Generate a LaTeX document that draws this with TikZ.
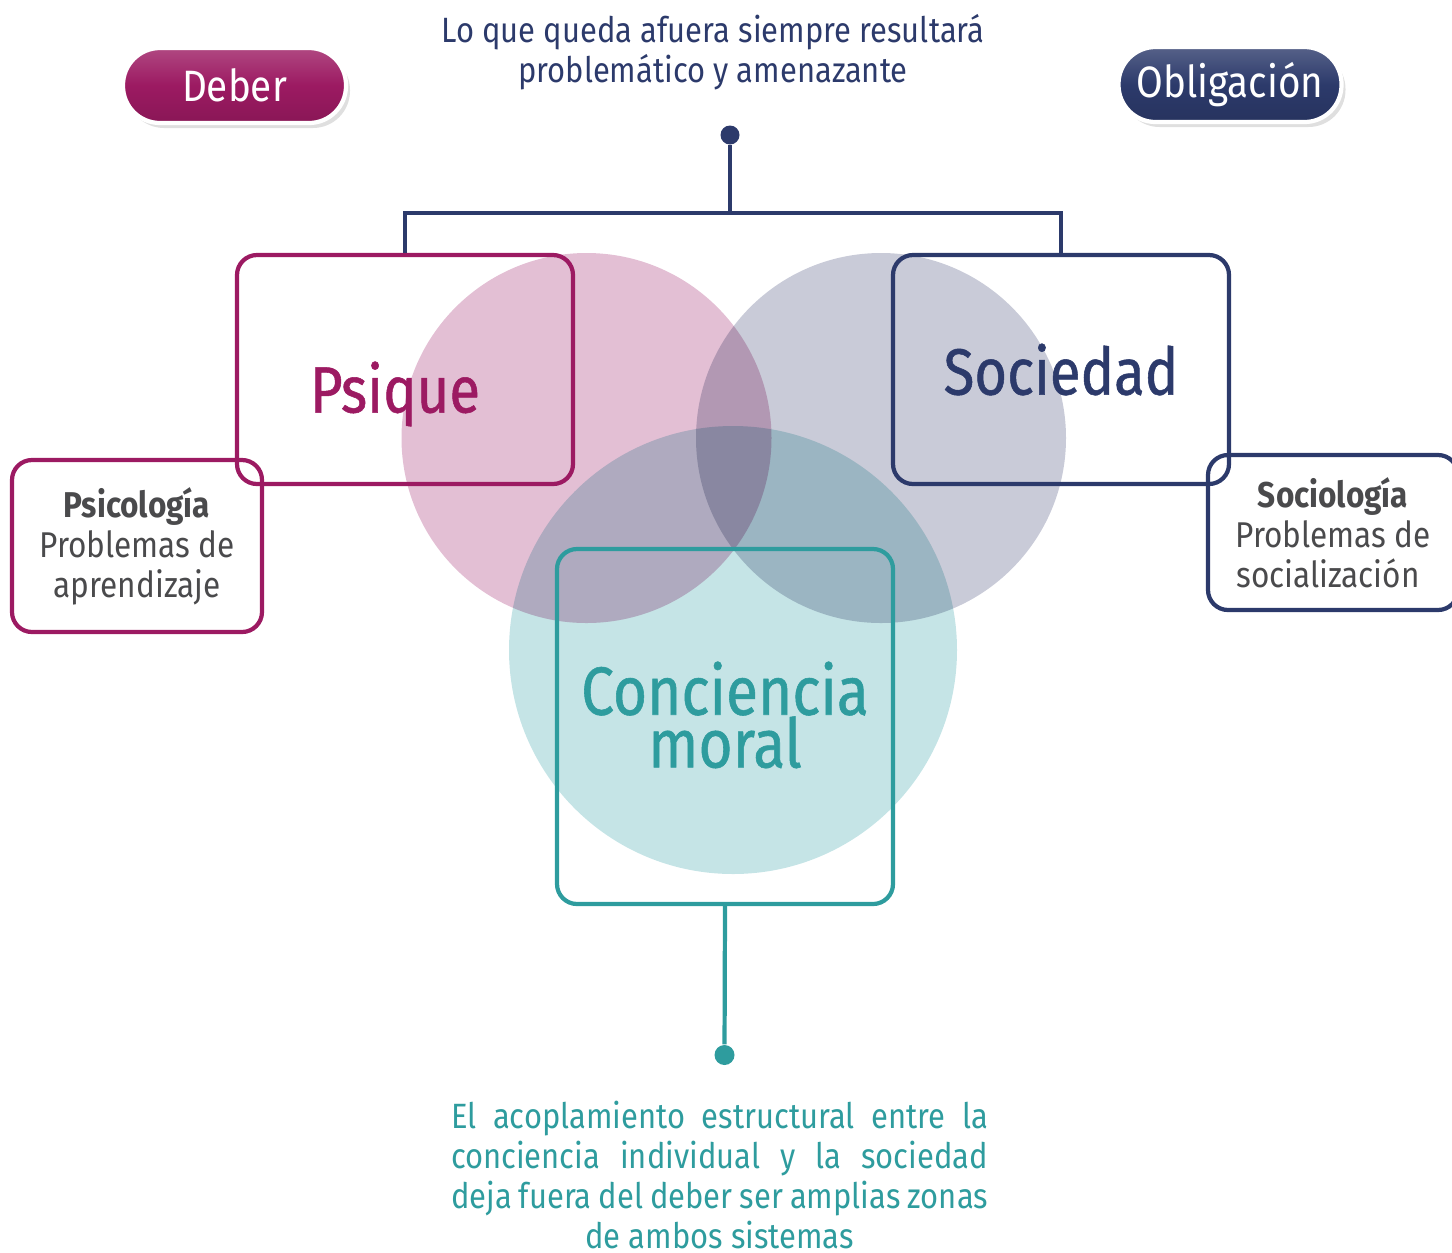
\documentclass[tikz,border=0pt]{standalone}
\usepackage{fontspec}
\setmainfont{Fira Sans}
\newfontfamily\narrowfont[FakeStretch=0.88]{Fira Sans}
\newfontfamily\labelfont[FakeStretch=0.86, FakeBold=0.8]{Fira Sans}
\usetikzlibrary{shadows}

\definecolor{deber}{RGB}{156,26,98}
\definecolor{navy}{RGB}{44,58,107}
\definecolor{teal}{RGB}{46,156,158}
\definecolor{greytext}{RGB}{74,74,76}
\definecolor{pinkfill}{RGB}{227,191,212}
\definecolor{greyfill}{RGB}{201,203,216}
\definecolor{tealfill}{RGB}{197,228,230}

\begin{document}
\begin{tikzpicture}[
    pill/.style={rectangle, rounded corners=0.37cm, minimum width=2.23cm, minimum height=0.75cm, draw=white, line width=1.2pt, text=white, font=\narrowfont\fontsize{12.5}{14}\selectfont, drop shadow={opacity=0.25, shadow xshift=0.04cm, shadow yshift=-0.05cm}},
    bigbox/.style={rectangle, rounded corners=0.2cm, minimum width=3.36cm, minimum height=2.29cm, line width=1.2pt, font=\labelfont\fontsize{18.6}{15}\selectfont, align=center},
    smallbox/.style={rectangle, rounded corners=0.2cm, minimum width=2.5cm, line width=1.2pt, text=greytext, font=\narrowfont\fontsize{10.2}{11.4}\selectfont, align=center},
    blob/.style={circle, inner sep=0pt},
    dot/.style={circle, inner sep=0pt, minimum size=0.19cm},
    link/.style={line width=1.2pt}
]
\useasboundingbox (0,0) rectangle (14.52,-12.52);

% Top pills
\node (deber) [pill, top color=deber!80!white, bottom color=deber!88!black, middle color=deber] at (2.345,-0.855) {Deber};
\node (obligacion) [pill, top color=navy!80!white, bottom color=navy!88!black, middle color=navy] at (12.30,-0.845) {Obligación};

% Top note
\node (topnote) [text=navy, align=center, font=\narrowfont\fontsize{10}{11.2}\selectfont] at (7.13,-0.52) {Lo que queda afuera siempre resultará\\problemático y amenazante};

% Three overlapping systems
\begin{scope}[blend group=multiply]
\node (psiquecircle) [blob, fill=pinkfill, minimum size=3.70cm] at (5.865,-4.38) {};
\node (sociedadcircle) [blob, fill=greyfill, minimum size=3.70cm] at (8.81,-4.38) {};
\node (moralcircle) [blob, fill=tealfill, minimum size=4.48cm] at (7.33,-6.50) {};
\end{scope}

% Frames
\node (psique) [bigbox, draw=deber, text=deber, text height=0.86cm, text depth=0cm] at (4.05,-3.695) {\hspace*{-0.2cm}Psique};
\node (sociedad) [bigbox, draw=navy, text=navy] at (10.61,-3.695) {Sociedad};
\node (moral) [bigbox, draw=teal, text=teal, minimum height=3.55cm, text depth=0.24cm, font=\labelfont\fontsize{19.4}{15}\selectfont] at (7.25,-7.265) {Conciencia\\moral};

% Side boxes
\node (psicologia) [smallbox, draw=deber, minimum height=1.72cm] at (1.37,-5.46) {\textbf{Psicología}\\Problemas de\\aprendizaje};
\node (sociologia) [smallbox, draw=navy, minimum height=1.55cm] at (13.33,-5.325) {\textbf{Sociología}\\Problemas de\\socialización\hspace*{0.1cm}};

% Top bracket
\node (topdot) [dot, fill=navy] at (7.30,-1.35) {};
\coordinate (fork) at (7.30,-2.13);
\draw[link, navy] (topdot) -- (fork);
\draw[link, navy] (psique.north) |- (fork) -| (sociedad.north);

% Bottom stem and note
\node (bottomdot) [dot, fill=teal, minimum size=0.2cm] at (7.245,-10.55) {};
\draw[link, teal] (moral.south) -- (bottomdot);
\node (bottomnote) [text=teal, text width=5.37cm, align=justify, font=\narrowfont\fontsize{10}{11.4}\selectfont] at (7.195,-11.75) {\leftskip=0pt plus 1fil\rightskip=0pt plus -1fil\parfillskip=0pt plus 2fil\relax El acoplamiento estructural entre la\linebreak conciencia individual y la sociedad\linebreak deja fuera del deber ser amplias zonas\linebreak de ambos sistemas\par};

\end{tikzpicture}
\end{document}
